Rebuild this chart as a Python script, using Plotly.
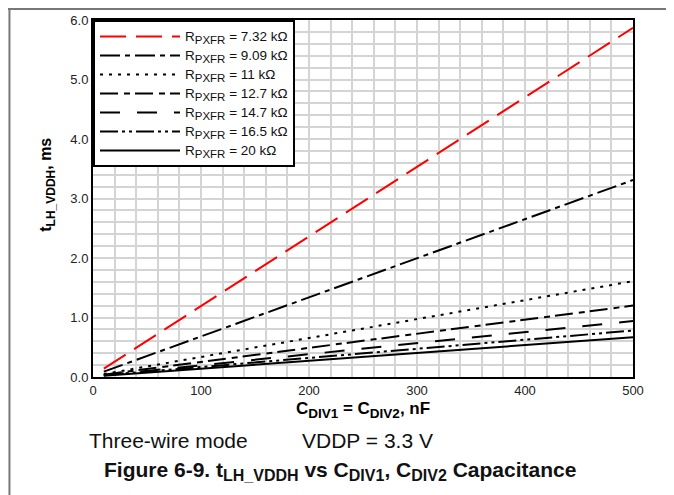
import plotly.graph_objects as go

# ---- data ----
x_nf = [10, 500]
series_names = ["7.32", "9.09", "11", "12.7", "14.7", "16.5", "20"]
t_732 = [0.14, 5.87]
t_909 = [0.09, 3.31]
t_11 = [0.05, 1.61]
t_127 = [0.04, 1.20]
t_147 = [0.03, 0.94]
t_165 = [0.03, 0.78]
t_20 = [0.02, 0.67]
series_vals = [t_732, t_909, t_11, t_127, t_147, t_165, t_20]

x_ticks = [0, 100, 200, 300, 400, 500]
y_ticks = [0, 1, 2, 3, 4, 5, 6]
y_tick_labels = ["0.0", "1.0", "2.0", "3.0", "4.0", "5.0", "6.0"]

colors = ["#ff0000"] + ["#000000"] * 6
dashes = [
    "26px,10px",
    "20px,5px,5px,5px",
    "3px,6px",
    "18px,6px,6px,5px",
    "20px,17px",
    "18px,4px,3px,4px,3px,4px",
    "solid",
]

FONT = "Liberation Sans, Arial, sans-serif"


def sub(txt, size):
    return f'<sub><span style="font-size:{size}px">{txt}</span></sub>'


fig = go.Figure()
for name, vals, c, d in zip(series_names, series_vals, colors, dashes):
    fig.add_trace(go.Scatter(
        x=x_nf, y=vals, mode="lines",
        name=(f'<span style="font-size:13.5px">R</span>{sub("PXFR", 11.5)}'
              f'<span style="font-size:13.5px"> = {name} kΩ</span>'),
        line=dict(color=c, width=2, dash=d),
    ))

# page is offset by the 8px default body margin
OFF = 8
W, H = 674 - OFF, 495 - OFF
L, T = 93 - OFF, 20 - OFF
R = W - (632.7 - OFF)
B = H - (377.5 - OFF)
pw, ph = W - L - R, H - T - B


def px(page_x):
    return (page_x - OFF - L) / pw


def py(page_y):
    return (H - B - (page_y - OFF)) / ph


grid_col = "#d4d4d4"
fig.update_layout(
    width=W, height=H, autosize=False,
    margin=dict(l=L, r=R, t=T, b=B, pad=0),
    paper_bgcolor="white", plot_bgcolor="white",
    font=dict(family=FONT, size=13, color="#222"),
    showlegend=True,
    legend=dict(
        x=0, y=1, xanchor="left", yanchor="top",
        bgcolor="white", bordercolor="black", borderwidth=2,
        font=dict(family=FONT, size=12, color="#111"),
        itemwidth=80, tracegroupgap=0,
    ),
    xaxis=dict(
        range=[0, 500], tickvals=x_ticks, ticktext=[str(v) for v in x_ticks],
        showgrid=True, gridcolor=grid_col, gridwidth=1.5,
        minor=dict(dtick=20, tick0=0, showgrid=True, gridcolor=grid_col, gridwidth=1.5),
        showline=True, linecolor="black", linewidth=2, mirror=True,
        ticks="", zeroline=False, automargin=False,
        tickfont=dict(size=13, color="#222"),
        title=dict(text=f"<b>C{sub('DIV1', 13.5)} = C{sub('DIV2', 13.5)}, nF</b>",
                   font=dict(size=17, color="#000"), standoff=6),
    ),
    yaxis=dict(
        range=[0, 6], tickvals=y_ticks, ticktext=y_tick_labels,
        showgrid=True, gridcolor=grid_col, gridwidth=1.5,
        minor=dict(dtick=0.2, tick0=0, showgrid=True, gridcolor=grid_col, gridwidth=1.5),
        showline=True, linecolor="black", linewidth=2, mirror=True,
        ticks="", zeroline=False, automargin=False,
        tickfont=dict(size=13, color="#222"),
    ),
    annotations=[
        dict(text=f"<b>t{sub('LH_VDDH', 12)}, ms</b>", x=px(47), y=py(185),
             xref="paper", yref="paper", textangle=-90,
             xanchor="center", yanchor="middle", showarrow=False,
             font=dict(family=FONT, size=16, color="#000")),
        dict(text="Three-wire mode", x=px(87), y=py(441), xref="paper", yref="paper",
             xanchor="left", yanchor="middle", showarrow=False,
             font=dict(family=FONT, size=21, color="#111")),
        dict(text="VDDP = 3.3 V", x=px(300), y=py(441), xref="paper", yref="paper",
             xanchor="left", yanchor="middle", showarrow=False,
             font=dict(family=FONT, size=21, color="#111")),
        dict(text=f"<b>Figure 6-9. t{sub('LH_VDDH', 16)} vs C{sub('DIV1', 16)}, C{sub('DIV2', 16)} Capacitance</b>",
             x=px(340), y=py(472), xref="paper", yref="paper",
             xanchor="center", yanchor="middle", showarrow=False,
             font=dict(family=FONT, size=21, color="#111")),
    ],
    shapes=[
        dict(type="line", xref="paper", yref="paper",
             x0=px(0), x1=px(700), y0=py(OFF + 1), y1=py(OFF + 1),
             line=dict(color="#777", width=2)),
        dict(type="line", xref="paper", yref="paper",
             x0=px(9.5), x1=px(9.5), y0=py(OFF), y1=py(520),
             line=dict(color="#777", width=2)),
    ],
)

fig.write_html("out.html")
